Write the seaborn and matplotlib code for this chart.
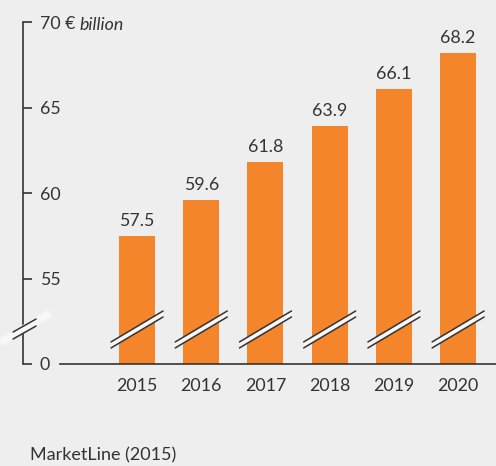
import pandas as pd
import matplotlib.pyplot as plt
import seaborn as sns

# -----------------------------
# Data
# -----------------------------
years = ["2015", "2016", "2017", "2018", "2019", "2020"]
values = [57.5, 59.6, 61.8, 63.9, 66.1, 68.2]
ytick_vals = [50, 55, 60, 65, 70]
ytick_labels = ["0", "55", "60", "65", "70 €"]
unit_label = "billion"
source = "MarketLine (2015)"

df = pd.DataFrame({"year": years, "value": values})

# -----------------------------
# Style
# -----------------------------
bg = "#eeeeee"
orange = "#f5852a"
ink = "#333333"
strip = "#f7f7f7"
fs = 12.8

sns.set_theme(style="white")
plt.rcParams["font.family"] = ["Lato", "DejaVu Sans"]
plt.rcParams["text.color"] = ink

fig = plt.figure(figsize=(4.96, 4.66), dpi=100, facecolor=bg)
ax = fig.add_axes([23 / 496, 102 / 466, 473 / 496, 342 / 466])
ax.set_facecolor(bg)

sns.barplot(x="year", y="value", data=df, color=orange, saturation=1,
            width=0.56, linewidth=0, ax=ax)

ax.set_xlim(-1.776, 5.59)
ax.set_ylim(50, 70)
ax.set_xlabel("")
ax.set_ylabel("")

# value labels
ax.bar_label(ax.containers[0], fmt="%.1f", padding=5, fontsize=fs, color=ink)

# spines
for s in ["top", "right"]:
    ax.spines[s].set_visible(False)
ax.spines["left"].set_color(ink)
ax.spines["left"].set_linewidth(1.2)
ax.spines["bottom"].set_color(ink)
ax.spines["bottom"].set_linewidth(1.2)
ax.spines["bottom"].set_bounds(-1.2, 5.59)

# ticks
ax.set_yticks(ytick_vals, ytick_labels)
ax.tick_params(axis="y", direction="in", length=6.5, width=1.2, color=ink,
               pad=-12, labelsize=fs, labelcolor=ink, left=True)
for lbl in ax.get_yticklabels():
    lbl.set_horizontalalignment("left")
ax.tick_params(axis="x", length=0, pad=10, labelsize=fs, labelcolor=ink)

# -----------------------------
# Axis breaks
# -----------------------------
brk = 52.02
dy = 0.175
half = 0.405
rise = 0.905
for p in ax.patches:
    cx = p.get_x() + p.get_width() / 2
    xs = [cx - half, cx + half, cx + half, cx - half]
    ys = [brk - rise + dy, brk + rise + dy, brk + rise - dy, brk - rise - dy]
    ax.fill(xs, ys, color=strip, zorder=3, lw=0)
    for off in (dy, -dy):
        ax.plot([cx - half, cx + half], [brk - rise + off, brk + rise + off],
                color=ink, lw=1.1, zorder=4)

# break on the y axis
ax.plot([-2.134, -1.355], [51.23, 52.98], color=strip, lw=5.5,
        solid_capstyle="butt", zorder=5, clip_on=False)
ax.plot([-1.931, -1.573], [51.87, 52.63], color=ink, lw=1.1, zorder=6, clip_on=False)
ax.plot([-1.931, -1.573], [51.46, 52.22], color=ink, lw=1.1, zorder=6, clip_on=False)

# unit label next to the top tick
fig.canvas.draw()
top = ax.get_yticklabels()[-1].get_window_extent()
fig.text(top.x1 + 4, (top.y0 + top.y1) / 2 - 1, unit_label, transform=None,
         fontsize=fs, style="italic", color=ink, va="center")

# source
fig.text(30 / 496, 1 - 455 / 466, source, fontsize=13, color=ink, va="center")

fig.savefig("out.png", dpi=100, facecolor=bg)
